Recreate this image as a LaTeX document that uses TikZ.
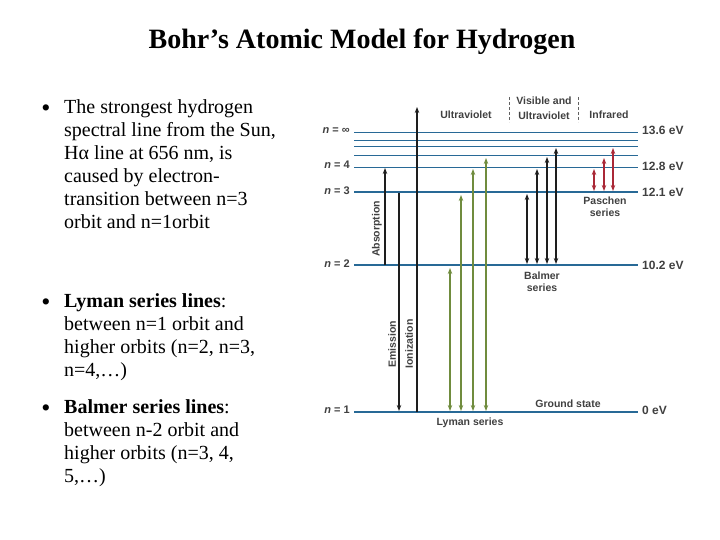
\documentclass[tikz,border=0pt]{standalone}
\usepackage{fontspec}
\setmainfont{Liberation Serif}
\newfontfamily\dsans{Liberation Sans}
\usetikzlibrary{arrows.meta}
\definecolor{lvl}{RGB}{40,105,150}
\definecolor{grn}{RGB}{112,140,62}
\definecolor{rd}{RGB}{170,40,55}
\definecolor{blk}{RGB}{30,30,30}
\tikzset{
 dlab/.style={font=\dsans\bfseries\fontsize{10.5}{12}\selectfont,text=blk!85,inner sep=0pt},
 elab/.style={font=\dsans\bfseries\fontsize{12}{14}\selectfont,text=blk!85,inner sep=0pt,anchor=west},
 nlab/.style={font=\dsans\bfseries\fontsize{11}{13}\selectfont,text=blk!85,inner sep=0pt,anchor=east},
 tip/.style={-{Stealth[length=6pt,width=4.5pt]}},
 dtip/.style={{Stealth[length=6pt,width=4.5pt]}-{Stealth[length=6pt,width=4.5pt]}},
 body/.style={font=\fontsize{20}{23}\selectfont,align=left,anchor=north west,inner sep=0pt},
 bul/.style={font=\fontsize{26}{23}\selectfont,inner sep=0pt},
}
\begin{document}
\begin{tikzpicture}[x=1pt,y=-1pt]
\useasboundingbox (0,0) rectangle (720,540);
\node[font=\bfseries\fontsize{28}{34}\selectfont,inner sep=0pt] (title) at (362,42) {Bohr’s Atomic Model for Hydrogen};
% bullets
\node[bul] (b1) at (46,111) {•};
\node[bul] (b2) at (46,305) {•};
\node[bul] (b3) at (46,411) {•};
\node[body] (t1) at (64,99) {The strongest hydrogen\\spectral line from the Sun,\\Hα line at 656 nm, is\\caused by electron-\\transition between n=3\\orbit and n=1orbit};
\node[body] (t2) at (64,293) {\textbf{Lyman series lines}:\\between n=1 orbit and\\higher orbits (n=2, n=3,\\n=4,…)};
\node[body] (t3) at (64,399) {\textbf{Balmer series lines}:\\between n-2 orbit and\\higher orbits (n=3, 4,\\5,…)};
% levels
\foreach \nm/\y/\w in {li/132/0.8, l6/140/0.8, l5/146/0.8, l4b/155/0.8, l4/167/0.8, l3/192/1.4, l2/265/1.4, l1/412/1.4}{
  \coordinate (\nm L) at (354,\y); \coordinate (\nm R) at (638,\y);
  \draw[draw=lvl,line width=\w pt] (\nm L) -- (\nm R);
}
\node[nlab] (ni) at (350,131) {\itshape n\upshape\ = ∞};
\node[nlab] (n4) at (350,165) {\itshape n\upshape\ = 4};
\node[nlab] (n3) at (350,191) {\itshape n\upshape\ = 3};
\node[nlab] (n2) at (350,264) {\itshape n\upshape\ = 2};
\node[nlab] (n1) at (350,410) {\itshape n\upshape\ = 1};
\node[elab] (e1) at (642,130) {13.6 eV};
\node[elab] (e2) at (642,166) {12.8 eV};
\node[elab] (e3) at (642,192) {12.1 eV};
\node[elab] (e4) at (642,265) {10.2 eV};
\node[elab] (e5) at (642,410) {0 eV};
% headers
\node[dlab] (uv) at (466,115) {Ultraviolet};
\node[dlab] (vis) at (544,101) {Visible and};
\node[dlab] (uv2) at (544,116) {Ultraviolet};
\node[dlab] (ir) at (609,115) {Infrared};
\draw[densely dashed,blk!70,line width=0.8pt] (509,97) -- (509,122);
\draw[densely dashed,blk!70,line width=0.8pt] (578,97) -- (578,122);
% absorption, emission, ionization
\coordinate (ab0) at (385,265); \coordinate (ab1) at (385,168);
\draw[tip,blk,line width=1.4pt] (ab0) -- (ab1);
\coordinate (em0) at (399,193); \coordinate (em1) at (399,411);
\draw[tip,blk,line width=1.4pt] (em0) -- (em1);
\coordinate (io0) at (417,412); \coordinate (io1) at (417,107);
\draw[tip,blk,line width=1.8pt] (io0) -- (io1);
\node[dlab,rotate=90] (abs) at (377,229) {Absorption};
\node[dlab,rotate=90] (emi) at (392,344) {Emission};
\node[dlab,rotate=90] (ion) at (409,344) {Ionization};
% Lyman
\foreach \x/\y in {450/268, 461/195, 473/169, 486/158}{
  \coordinate (ly\x a) at (\x,411); \coordinate (ly\x b) at (\x,\y);
  \draw[dtip,grn,line width=1.5pt] (ly\x a) -- (ly\x b);
}
\node[dlab] (lys) at (470,423) {Lyman series};
% Balmer
\foreach \x/\y in {527/194, 537/169, 547/157, 556/148}{
  \coordinate (ba\x a) at (\x,264); \coordinate (ba\x b) at (\x,\y);
  \draw[dtip,blk,line width=1.4pt] (ba\x a) -- (ba\x b);
}
\node[dlab,align=center] (bas) at (542,282) {Balmer\\series};
% Paschen
\foreach \x/\y in {594/169, 604/158, 613/148}{
  \coordinate (pa\x a) at (\x,191); \coordinate (pa\x b) at (\x,\y);
  \draw[dtip,rd,line width=1.5pt] (pa\x a) -- (pa\x b);
}
\node[dlab,align=center] (pas) at (605,207) {Paschen\\series};
\node[dlab] (gs) at (568,404) {Ground state};
\end{tikzpicture}
\end{document}
